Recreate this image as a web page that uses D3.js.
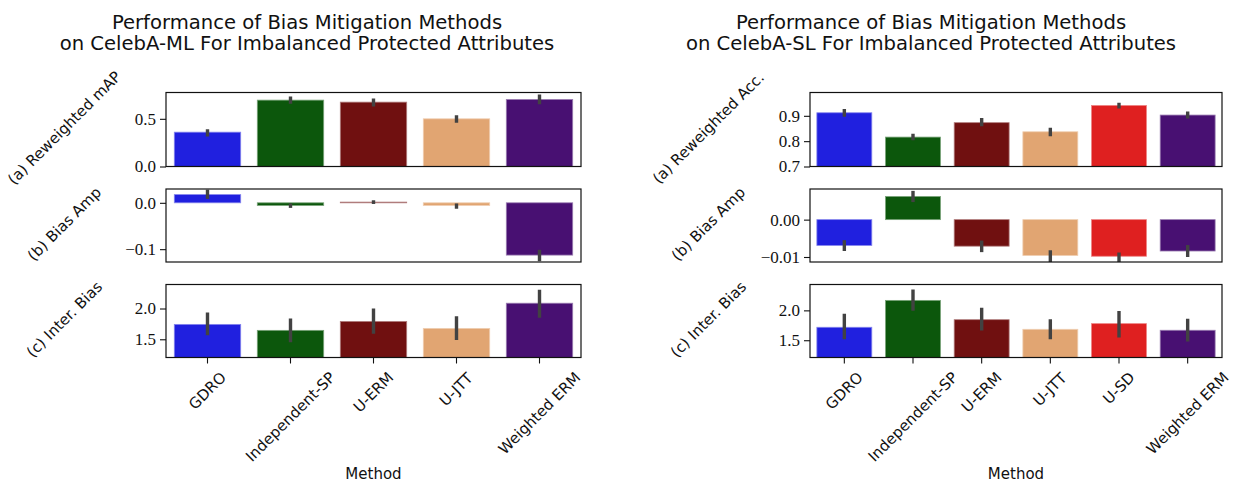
<!DOCTYPE html>
<html lang='en'>
  <head>
    <meta charset='utf-8'>
    <title>Performance of Bias Mitigation Methods</title>
    <script src="https://d3js.org/d3.v7.min.js" charset='utf-8'></script>
    <style type="text/css">
      body { margin: 0; background: #fff; }
      svg { display: block; }
      .sans { font-family: "DejaVu Sans", sans-serif; fill: #111; }
    </style>
  </head>
  <body>
    <script type="text/javascript">
      // ---- data ----
      var methodsML = ['GDRO', 'Independent-SP', 'U-ERM', 'U-JTT', 'Weighted ERM'];
      var methodsSL = ['GDRO', 'Independent-SP', 'U-ERM', 'U-JTT', 'U-SD', 'Weighted ERM'];
      var methodColors = {
        'GDRO': '#2020df', 'Independent-SP': '#0c570c', 'U-ERM': '#701010',
        'U-JTT': '#e1a572', 'U-SD': '#df2020', 'Weighted ERM': '#481072'
      };

      // CelebA-ML
      var mlMap    = [0.360, 0.696, 0.675, 0.500, 0.703];
      var mlMapLo  = [0.315, 0.657, 0.630, 0.460, 0.654];
      var mlMapHi  = [0.390, 0.734, 0.713, 0.538, 0.755];
      var mlAmp    = [0.0177, -0.0057, 0.0015, -0.0057, -0.1128];
      var mlAmpLo  = [0.0085, -0.0110, -0.0025, -0.0128, -0.1260];
      var mlAmpHi  = [0.0284, -0.0014, 0.0055, -0.0014, -0.1014];
      var mlInter   = [1.742, 1.645, 1.790, 1.677, 2.086];
      var mlInterLo = [1.565, 1.452, 1.590, 1.489, 1.850];
      var mlInterHi = [1.935, 1.839, 2.000, 1.876, 2.306];

      // CelebA-SL
      var slAcc    = [0.912, 0.816, 0.873, 0.837, 0.941, 0.903];
      var slAccLo  = [0.896, 0.804, 0.859, 0.819, 0.929, 0.889];
      var slAccHi  = [0.927, 0.829, 0.891, 0.853, 0.952, 0.917];
      var slAmp    = [-0.0069, 0.0062, -0.0071, -0.0096, -0.0098, -0.0084];
      var slAmpLo  = [-0.0084, 0.0047, -0.0087, -0.0118, -0.0118, -0.0100];
      var slAmpHi  = [-0.0055, 0.0077, -0.0056, -0.0082, -0.0088, -0.0068];
      var slInter   = [1.717, 2.167, 1.844, 1.683, 1.778, 1.667];
      var slInterLo = [1.517, 1.994, 1.661, 1.517, 1.544, 1.478];
      var slInterHi = [1.944, 2.350, 2.044, 1.850, 1.989, 1.861];

      // y tick labels
      var mlTicks = [['0.0', '0.5'], ['0.0', '−0.1'], ['1.5', '2.0']];
      var slTicks = [['0.7', '0.8', '0.9'], ['0.00', '−0.01'], ['1.5', '2.0']];
      var rowLabelsML = ['(a) Reweighted mAP', '(b) Bias Amp', '(c) Inter. Bias'];
      var rowLabelsSL = ['(a) Reweighted Acc.', '(b) Bias Amp', '(c) Inter. Bias'];

      var width = 1233, height = 482;
      var svg = d3.select('body').append('svg')
        .attr('width', width)
        .attr('height', height);
      svg.append('rect').attr('width', width).attr('height', height).attr('fill', '#fff');

      var rowTops = [92.5, 189, 284.5];
      var rowBottoms = [166.5, 262, 357.5];

      var num = function(s) { return +s.replace('−', '-'); };

      var panels = [
        {
          id: 'ml', x0: 166, x1: 581, titleX: 307,
          title: ['Performance of Bias Mitigation Methods', 'on CelebA-ML For Imbalanced Protected Attributes'],
          methods: methodsML, labels: rowLabelsML,
          rows: [
            { v: mlMap, lo: mlMapLo, hi: mlMapHi, domain: [0, 0.776], ticks: mlTicks[0] },
            { v: mlAmp, lo: mlAmpLo, hi: mlAmpHi, domain: [-0.1277, 0.0298], ticks: mlTicks[1] },
            { v: mlInter, lo: mlInterLo, hi: mlInterHi, domain: [1.204, 2.39], ticks: mlTicks[2] }
          ]
        },
        {
          id: 'sl', x0: 810, x1: 1222, titleX: 931,
          title: ['Performance of Bias Mitigation Methods', 'on CelebA-SL For Imbalanced Protected Attributes'],
          methods: methodsSL, labels: rowLabelsSL,
          rows: [
            { v: slAcc, lo: slAccLo, hi: slAccHi, domain: [0.7, 0.992], ticks: slTicks[0] },
            { v: slAmp, lo: slAmpLo, hi: slAmpHi, domain: [-0.01134, 0.0082], ticks: slTicks[1] },
            { v: slInter, lo: slInterLo, hi: slInterHi, domain: [1.211, 2.433], ticks: slTicks[2] }
          ]
        }
      ];

      panels.forEach(function(p) {
        var w = p.x1 - p.x0;
        var x = d3.scaleBand().domain(p.methods).range([0, w])
          .paddingInner(0.2).paddingOuter(0.1);

        // title
        var t = svg.append('text').attr('class', 'sans')
          .attr('x', p.titleX).attr('y', 29)
          .attr('text-anchor', 'middle')
          .style('font-size', '19.6px');
        p.title.forEach(function(line, i) {
          t.append('tspan').attr('x', p.titleX).attr('dy', i ? 21 : 0).text(line);
        });

        p.rows.forEach(function(r, ri) {
          var top = rowTops[ri], h = rowBottoms[ri] - top;
          var y = d3.scaleLinear().domain(r.domain).range([h, 0]);
          var g = svg.append('g').attr('transform', 'translate(' + p.x0 + ',' + top + ')');
          var clipId = 'clip-' + p.id + ri;
          g.append('clipPath').attr('id', clipId)
            .append('rect').attr('width', w).attr('height', h);
          var body = g.append('g').attr('clip-path', 'url(#' + clipId + ')');

          var data = p.methods.map(function(m, i) {
            return { m: m, v: r.v[i], lo: r.lo[i], hi: r.hi[i] };
          });

          body.selectAll('rect.bar').data(data).enter().append('rect')
            .attr('class', 'bar')
            .attr('x', function(d) { return x(d.m); })
            .attr('width', x.bandwidth())
            .attr('y', function(d) { return y(Math.max(d.v, 0)); })
            .attr('height', function(d) { return Math.abs(y(d.v) - y(0)); })
            .attr('fill', function(d) { return methodColors[d.m]; })
            .attr('stroke', function(d) { return d3.interpolateRgb(methodColors[d.m], '#fff')(0.45); })
            .attr('stroke-width', 0.8);

          body.selectAll('line.err').data(data).enter().append('line')
            .attr('class', 'err')
            .attr('x1', function(d) { return x(d.m) + x.bandwidth() / 2; })
            .attr('x2', function(d) { return x(d.m) + x.bandwidth() / 2; })
            .attr('y1', function(d) { return y(d.lo); })
            .attr('y2', function(d) { return y(d.hi); })
            .attr('stroke', '#424242')
            .attr('stroke-width', 3.4);

          // y axis
          var ya = g.append('g')
            .call(d3.axisLeft(y)
              .tickValues(r.ticks.map(num))
              .tickFormat(function(d, i) { return r.ticks[i]; })
              .tickSize(6).tickPadding(4));
          ya.select('.domain').remove();
          ya.selectAll('.tick line').attr('stroke', '#111').attr('stroke-width', 1.1);
          ya.selectAll('.tick text')
            .style('font-family', '"Liberation Serif", "DejaVu Serif", serif')
            .style('font-size', '17px')
            .style('fill', '#111');

          // x axis only on the bottom row
          if (ri === 2) {
            var xa = g.append('g')
              .attr('transform', 'translate(0,' + h + ')')
              .call(d3.axisBottom(x).tickSize(6).tickPadding(4));
            xa.select('.domain').remove();
            xa.selectAll('.tick line').attr('stroke', '#111').attr('stroke-width', 1.1);
            // rotated labels, box centred under the tick (like matplotlib's ha='center')
            xa.selectAll('.tick').each(function() {
              var tick = d3.select(this);
              var txt = tick.select('text');
              var wrap = tick.append('g');
              wrap.node().appendChild(txt.node());
              txt.attr('x', 0).attr('y', 0).attr('dy', null)
                .attr('transform', 'rotate(-45)')
                .style('text-anchor', 'middle')
                .style('font-family', '"DejaVu Sans", sans-serif')
                .style('font-size', '15px')
                .style('fill', '#111');
              var bb = wrap.node().getBBox();
              wrap.attr('transform', 'translate(' + (-(bb.x + bb.width / 2)) + ',' + (11 - bb.y) + ')');
            });

            svg.append('text').attr('class', 'sans')
              .attr('x', p.x0 + w / 2).attr('y', 479)
              .attr('text-anchor', 'middle')
              .style('font-size', '15px')
              .text('Method');
          }

          // frame
          g.append('rect').attr('width', w).attr('height', h)
            .attr('fill', 'none').attr('stroke', '#111').attr('stroke-width', 1.2);

          // rotated row label
          svg.append('text').attr('class', 'sans')
            .attr('text-anchor', 'middle')
            .attr('transform', 'translate(' + (p.x0 - 98) + ',' + (top + h / 2 + 2) + ') rotate(-45)')
            .style('font-size', '15px')
            .text(p.labels[ri]);
        });
      });
    </script>
  </body>
</html>
